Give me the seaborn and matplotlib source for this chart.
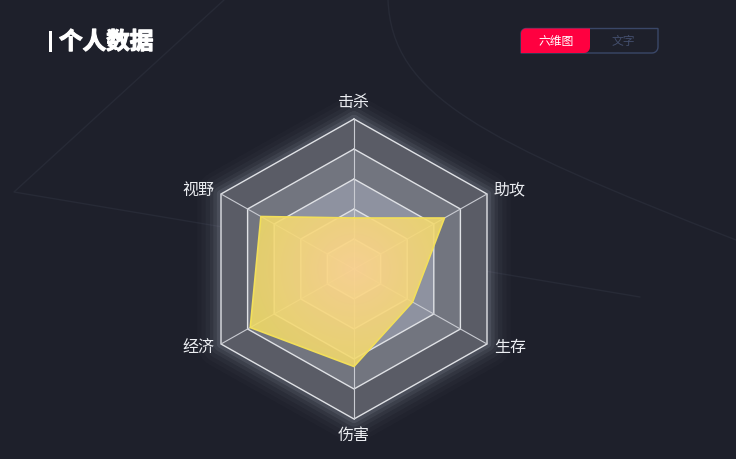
import numpy as np
import pandas as pd
import matplotlib.pyplot as plt
import matplotlib.patheffects as pe
import seaborn as sns
from matplotlib.patches import Polygon, Rectangle
from matplotlib.path import Path
from matplotlib.patches import PathPatch

# data
categories = ["击杀", "助攻", "生存", "伤害", "经济", "视野"]
values = [34, 68, 44, 65, 78, 70]
levels = [20, 40, 60, 80, 100]
band_colors = ["#b1b5c2", "#a0a4b1", "#8e92a0", "#72757f", "#5a5c66"]  # inner -> outer
title = "个人数据"
tabs = ["六维图", "文字"]

bg = "#1e202b"
sns.set_theme(style="dark", rc={"axes.facecolor": bg, "figure.facecolor": bg})
plt.rcParams["font.family"] = ["Noto Sans CJK SC", "DejaVu Sans"]

fig = plt.figure(figsize=(7.36, 4.59), dpi=100)

# decoration layer in pixel coordinates
deco = fig.add_axes([0, 0, 1, 1])
deco.set_xlim(0, 736)
deco.set_ylim(459, 0)
deco.axis("off")

line_c = "#272a36"
deco.plot([224, 14, 640], [0, 192, 297], color=line_c, lw=1)
curve = Path([(388, 0), (392, 95), (480, 140), (736, 240)],
             [Path.MOVETO, Path.CURVE4, Path.CURVE4, Path.CURVE4])
deco.add_patch(PathPatch(curve, facecolor="none", edgecolor=line_c, lw=1))

# title
deco.add_patch(Rectangle((49, 31), 3, 21, color="white", lw=0))
deco.text(59, 42, title, fontsize=17, fontweight="bold", color="white", va="center", ha="left",
          path_effects=[pe.withStroke(linewidth=0.9, foreground="white")])


def rrect(x0, y0, x1, y1, radii):
    # radii: top-left, top-right, bottom-right, bottom-left (pixel space, y down)
    tl, tr, br, bl = radii
    pts = []
    def arc(cx, cy, r, a0, a1):
        if r == 0:
            pts.append((cx, cy))
            return
        for a in np.linspace(a0, a1, 8):
            pts.append((cx + r * np.cos(a), cy + r * np.sin(a)))
    arc(x0 + tl if tl else x0, y0 + tl if tl else y0, tl, np.pi, 1.5 * np.pi)
    arc(x1 - tr if tr else x1, y0 + tr if tr else y0, tr, 1.5 * np.pi, 2 * np.pi)
    arc(x1 - br if br else x1, y1 - br if br else y1, br, 0, 0.5 * np.pi)
    arc(x0 + bl if bl else x0, y1 - bl if bl else y1, bl, 0.5 * np.pi, np.pi)
    return Polygon(pts, closed=True)


outline = rrect(521, 28.5, 658, 53, (5, 0, 6, 0))
outline.set_facecolor("none")
outline.set_edgecolor("#3a4768")
outline.set_linewidth(1)
deco.add_patch(outline)
red = rrect(521, 28.5, 590, 53, (5, 0, 6, 0))
red.set_facecolor("#ff0040")
red.set_edgecolor("none")
deco.add_patch(red)
deco.text(556, 41, tabs[0], fontsize=8.5, color="white", ha="center", va="center")
deco.text(623, 41, tabs[1], fontsize=8.5, color="#434e6d", ha="center", va="center")

# radar layer in value units
ax = fig.add_axes([0, 0, 1, 1])
ax.axis("off")
sx = 133 / 86.6
sy = 1.5
cx, cy = 354, 269

theta = np.deg2rad(np.arange(len(categories)) * 60)
ux, uy = np.sin(theta), np.cos(theta)
uxc, uyc = np.append(ux, ux[0]), np.append(uy, uy[0])

# glow around the outer hexagon
for lw, a in [(34, 0.02), (28, 0.025), (22, 0.035), (16, 0.05), (11, 0.07), (6, 0.1)]:
    ax.plot(100 * uxc, 100 * uyc, color="#cdd2e2", lw=lw, alpha=a,
            solid_joinstyle="round", zorder=1)

# split areas
for lvl, col in zip(levels[::-1], band_colors[::-1]):
    ax.fill(lvl * ux, lvl * uy, color=col, lw=0, zorder=2)

# split lines and axis lines
for lvl in levels:
    sns.lineplot(x=lvl * uxc, y=lvl * uyc, sort=False, estimator=None,
                 color="#e0e2e6", lw=1, ax=ax, zorder=3)
for i in range(len(categories)):
    ax.plot([0, 100 * ux[i]], [0, 100 * uy[i]], color="#c9cbd2", lw=0.8, zorder=3)

# data area with soft radial tint
df = pd.DataFrame({"cat": categories, "value": values})
px = df["value"].to_numpy() * ux
py = df["value"].to_numpy() * uy
poly = Polygon(np.column_stack([px, py]), closed=True, facecolor="none", edgecolor="none")
ax.add_patch(poly)
gx = np.linspace(-100, 100, 300)
X, Y = np.meshgrid(gx, gx)
R = np.clip(np.hypot(X, Y) / 80, 0, 1)[..., None]
c0 = np.array([255, 211, 138]) / 255
c1 = np.array([241, 221, 100]) / 255
rgba = np.dstack([c0 + (c1 - c0) * R, np.full(R.shape[:2], 0.88)])
im = ax.imshow(rgba, extent=(-100, 100, -100, 100), origin="lower",
               interpolation="bilinear", zorder=4)
im.set_clip_path(poly)
sns.lineplot(x=np.append(px, px[0]), y=np.append(py, py[0]), sort=False, estimator=None,
             color="#f2df5a", lw=1.2, ax=ax, zorder=5)

# category labels
for i, cat in enumerate(categories):
    r = 105
    x, y = r * ux[i], r * uy[i]
    if abs(ux[i]) < 0.1:
        ha = "center"
        va = "bottom" if uy[i] > 0 else "top"
    else:
        ha = "left" if ux[i] > 0 else "right"
        va = "center"
    ax.text(x, y, cat, fontsize=11.5, color="#eceef2", ha=ha, va=va, zorder=6)

ax.set_aspect("auto")
ax.set_xlim(-cx / sx, (736 - cx) / sx)
ax.set_ylim(-(459 - cy) / sy, cy / sy)

fig.savefig("out.png", dpi=100, facecolor=bg)
